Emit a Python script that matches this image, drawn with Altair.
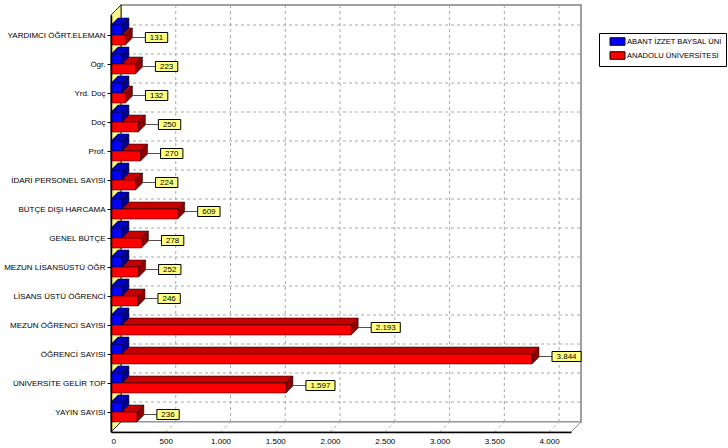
import json

import altair as alt
import pandas as pd

# ---- values -------------------------------------------------------------
categories = [
    "YARDIMCI ÖĞRT.ELEMAN", "Ögr.", "Yrd. Doç", "Doç", "Prof.",
    "İDARİ PERSONEL SAYISI", "BÜTÇE DIŞI HARCAMA", "GENEL BÜTÇE",
    "MEZUN LİSANSÜSTÜ ÖĞR", "LİSANS ÜSTÜ ÖĞRENCİ", "MEZUN ÖĞRENCİ SAYISI",
    "ÖĞRENCİ SAYISI", "ÜNİVERSİTE GELİR TOP", "YAYIN SAYISI",
]
series_names = ["ABANT İZZET BAYSAL ÜNİ", "ANADOLU ÜNİVERSİTESİ"]
abant = [100, 100, 100, 100, 100, 100, 100, 100, 100, 100, 100, 100, 100, 100]
anadolu = [131, 223, 132, 250, 270, 224, 609, 278, 252, 246, 2193, 3844, 1597, 236]
x_ticks = [0, 500, 1000, 1500, 2000, 2500, 3000, 3500, 4000]

# ---- styling ------------------------------------------------------------
front_colors = ["#0000FF", "#FF0000"]
top_colors = ["#0000C4", "#C40000"]
side_colors = ["#000090", "#8E0000"]
wall_yellow = "#FAF58A"
box_yellow = "#FFFF80"
FONT = "Liberation Sans"

W, H = 460, 417          # front plane of the 3D box, in pixels
X_MAX = 4200
ROW = 29.0               # pixels per category row
EDGE = 20.0              # pixels between frame and first/last row centre
Y_MIN = -EDGE / ROW
Y_MAX = len(categories) - 1 + EDGE / ROW
KX = W / X_MAX

WALL = 10                # depth of the box walls (px)
DEPTH = 7                # depth of each bar (px)
BAR = 10                 # height of each bar front (px)


def ux(px):
    return px / KX


def uy(px):
    return px / ROW


def tr_num(v):
    return f"{v:,}".replace(",", ".")


xs = alt.Scale(domain=[0, X_MAX], nice=False, zero=False)
ys = alt.Scale(domain=[Y_MIN, Y_MAX], nice=False, zero=False, reverse=True)

X_AXIS = alt.Axis(
    values=x_ticks, title=None, grid=False, tickSize=0, labelPadding=5,
    labelExpr="replace(format(datum.value, ','), ',', '.')",
    labelFont=FONT, labelFontSize=8, labelColor="black",
    domainColor="black", domainWidth=1.5, zindex=1)
Y_AXIS = alt.Axis(
    values=list(range(len(categories))), title=None, grid=False,
    labelExpr=json.dumps(categories, ensure_ascii=False) + "[datum.value]",
    tickSize=4, tickColor="black", labelPadding=2, labelOverlap=False,
    labelFont=FONT, labelFontSize=8, labelColor="black",
    domainColor="black", domainWidth=1.5, zindex=1)


def X(field):
    return alt.X(field, scale=xs, axis=X_AXIS)


def Y(field, **kw):
    return alt.Y(field, scale=ys, axis=Y_AXIS, **kw)


# ---- bar geometry -------------------------------------------------------
fronts, faces = [], {0: [], 1: []}
for s, (name, vals) in enumerate(zip(series_names, [abant, anadolu])):
    for i, v in enumerate(vals):
        ya = i - uy(BAR) if s == 0 else i
        yb = ya + uy(BAR)
        fronts.append(dict(series=name, x0=0, x1=v, ya=ya, yb=yb))
        dx, dy = ux(DEPTH), uy(DEPTH)
        key = f"t{s}-{i}"
        for x, y, y2 in [(0, ya, ya), (dx, ya, ya - dy), (v, ya, ya - dy),
                         (v + dx, ya - dy, ya - dy)]:
            faces[s].append(dict(face=key, x=x, y=y, y2=y2, fill=top_colors[s]))
        key = f"s{s}-{i}"
        for x, y, y2 in [(v, ya, yb), (v + dx, ya - dy, yb - dy)]:
            faces[s].append(dict(face=key, x=x, y=y, y2=y2, fill=side_colors[s]))

front_df = pd.DataFrame(fronts)
red_faces = pd.DataFrame(faces[1])
blue_faces = pd.DataFrame(faces[0])

# ---- box (back wall, floor, left wall) ----------------------------------
wx, wy = ux(WALL), uy(WALL)
back_df = pd.DataFrame([dict(x0=wx, x1=X_MAX + wx, ya=Y_MIN - wy, yb=Y_MAX - wy)])
vgrid_df = pd.DataFrame([dict(x=t + wx, y=Y_MIN - wy, y2=Y_MAX - wy) for t in x_ticks[1:]])
hgrid_df = pd.DataFrame([dict(x=wx, x2=X_MAX + wx, y=i - wy) for i in range(len(categories))])
floor_df = pd.DataFrame([
    dict(x=0, y=Y_MAX, y2=Y_MAX),
    dict(x=wx, y=Y_MAX, y2=Y_MAX - wy),
    dict(x=X_MAX, y=Y_MAX, y2=Y_MAX - wy),
    dict(x=X_MAX + wx, y=Y_MAX - wy, y2=Y_MAX - wy),
])
floor_dash_df = pd.DataFrame([dict(x=t, x2=t + wx, y=Y_MAX, y2=Y_MAX - wy) for t in x_ticks[1:]])
lwall_df = pd.DataFrame([
    dict(x=0, y=Y_MIN, y2=Y_MAX),
    dict(x=wx, y=Y_MIN - wy, y2=Y_MAX - wy),
])

# ---- value callouts for the second series -------------------------------
labels = []
for i, v in enumerate(anadolu):
    txt = tr_num(v)
    w = sum(2.3 if c == "." else 4.45 for c in txt) + 9
    yc = i + uy(2.5)
    bx0 = v + ux(20)
    labels.append(dict(label=txt, xc0=v + ux(DEPTH), bx0=bx0, bx1=bx0 + ux(w),
                       bxm=bx0 + ux(w / 2), yc=yc, ya=yc - uy(5), yb=yc + uy(5)))
label_df = pd.DataFrame(labels)

# ---- layers -------------------------------------------------------------
back = alt.Chart(back_df).mark_rect(fill="white", stroke="#808080", strokeWidth=1.5).encode(
    x=X("x0:Q"), x2="x1", y=Y("ya:Q"), y2="yb")

grid_style = dict(color="#A8A8A8", strokeDash=[3, 3], strokeWidth=1)
vgrid = alt.Chart(vgrid_df).mark_rule(**grid_style).encode(
    x=X("x:Q"), y=Y("y:Q"), y2="y2")
hgrid = alt.Chart(hgrid_df).mark_rule(**grid_style).encode(
    x=X("x:Q"), x2="x2", y=Y("y:Q"))

floor = alt.Chart(floor_df).mark_area(orient="vertical", fill="white", stroke="#909090",
                                      strokeWidth=1).encode(
    x=X("x:Q"), y=Y("y:Q", stack=None), y2="y2")
floor_dash = alt.Chart(floor_dash_df).mark_rule(**grid_style).encode(
    x=X("x:Q"), x2="x2", y=Y("y:Q"), y2="y2")

lwall = alt.Chart(lwall_df).mark_area(orient="vertical", fill=wall_yellow, stroke="black",
                                      strokeWidth=0.8).encode(
    x=X("x:Q"), y=Y("y:Q", stack=None), y2="y2")


def face_layer(df):
    return alt.Chart(df).mark_area(orient="vertical", stroke="black", strokeWidth=0.5).encode(
        x=X("x:Q"),
        y=Y("y:Q", stack=None),
        y2="y2",
        detail="face:N",
        fill=alt.Fill("fill:N", scale=None),
    )


fronts_layer = alt.Chart(front_df).mark_rect(stroke="black", strokeWidth=0.5).encode(
    x=X("x0:Q"),
    x2="x1",
    y=Y("ya:Q"),
    y2="yb",
    color=alt.Color("series:N", scale=alt.Scale(domain=series_names, range=front_colors),
                    legend=alt.Legend(
                        title=None, orient="none", legendX=488, legendY=18,
                        symbolType="M-2,-1H2V1H-2Z", symbolSize=56.25,
                        symbolStrokeColor="black", symbolStrokeWidth=1,
                        symbolOffset=10, labelOffset=5,
                        labelFont=FONT, labelFontSize=7.6, labelColor="black",
                        labelLimit=400, padding=4, rowPadding=1,
                        strokeColor="black", fillColor="white")),
)

connectors = alt.Chart(label_df).mark_rule(color="#505050", strokeWidth=1).encode(
    x=X("xc0:Q"), x2="bx0", y=Y("yc:Q"))
boxes = alt.Chart(label_df).mark_rect(fill=box_yellow, stroke="black", strokeWidth=1).encode(
    x=X("bx0:Q"), x2="bx1", y=Y("ya:Q"), y2="yb")
texts = alt.Chart(label_df).mark_text(font=FONT, fontSize=8, color="black",
                                      baseline="middle", align="center").encode(
    x=X("bxm:Q"), y=Y("yc:Q"), text="label:N")

chart = alt.layer(
    back, vgrid, hgrid, floor, floor_dash, lwall,
    face_layer(red_faces), fronts_layer, face_layer(blue_faces),
    connectors, boxes, texts,
).properties(
    width=W, height=H,
    autosize=alt.AutoSizeParams(type="none"),
    padding={"left": 111, "top": 15, "right": 157, "bottom": 16},
    background="white",
).configure_view(stroke=None)

chart.save("out.html", embed_options={"renderer": "svg", "actions": False})
